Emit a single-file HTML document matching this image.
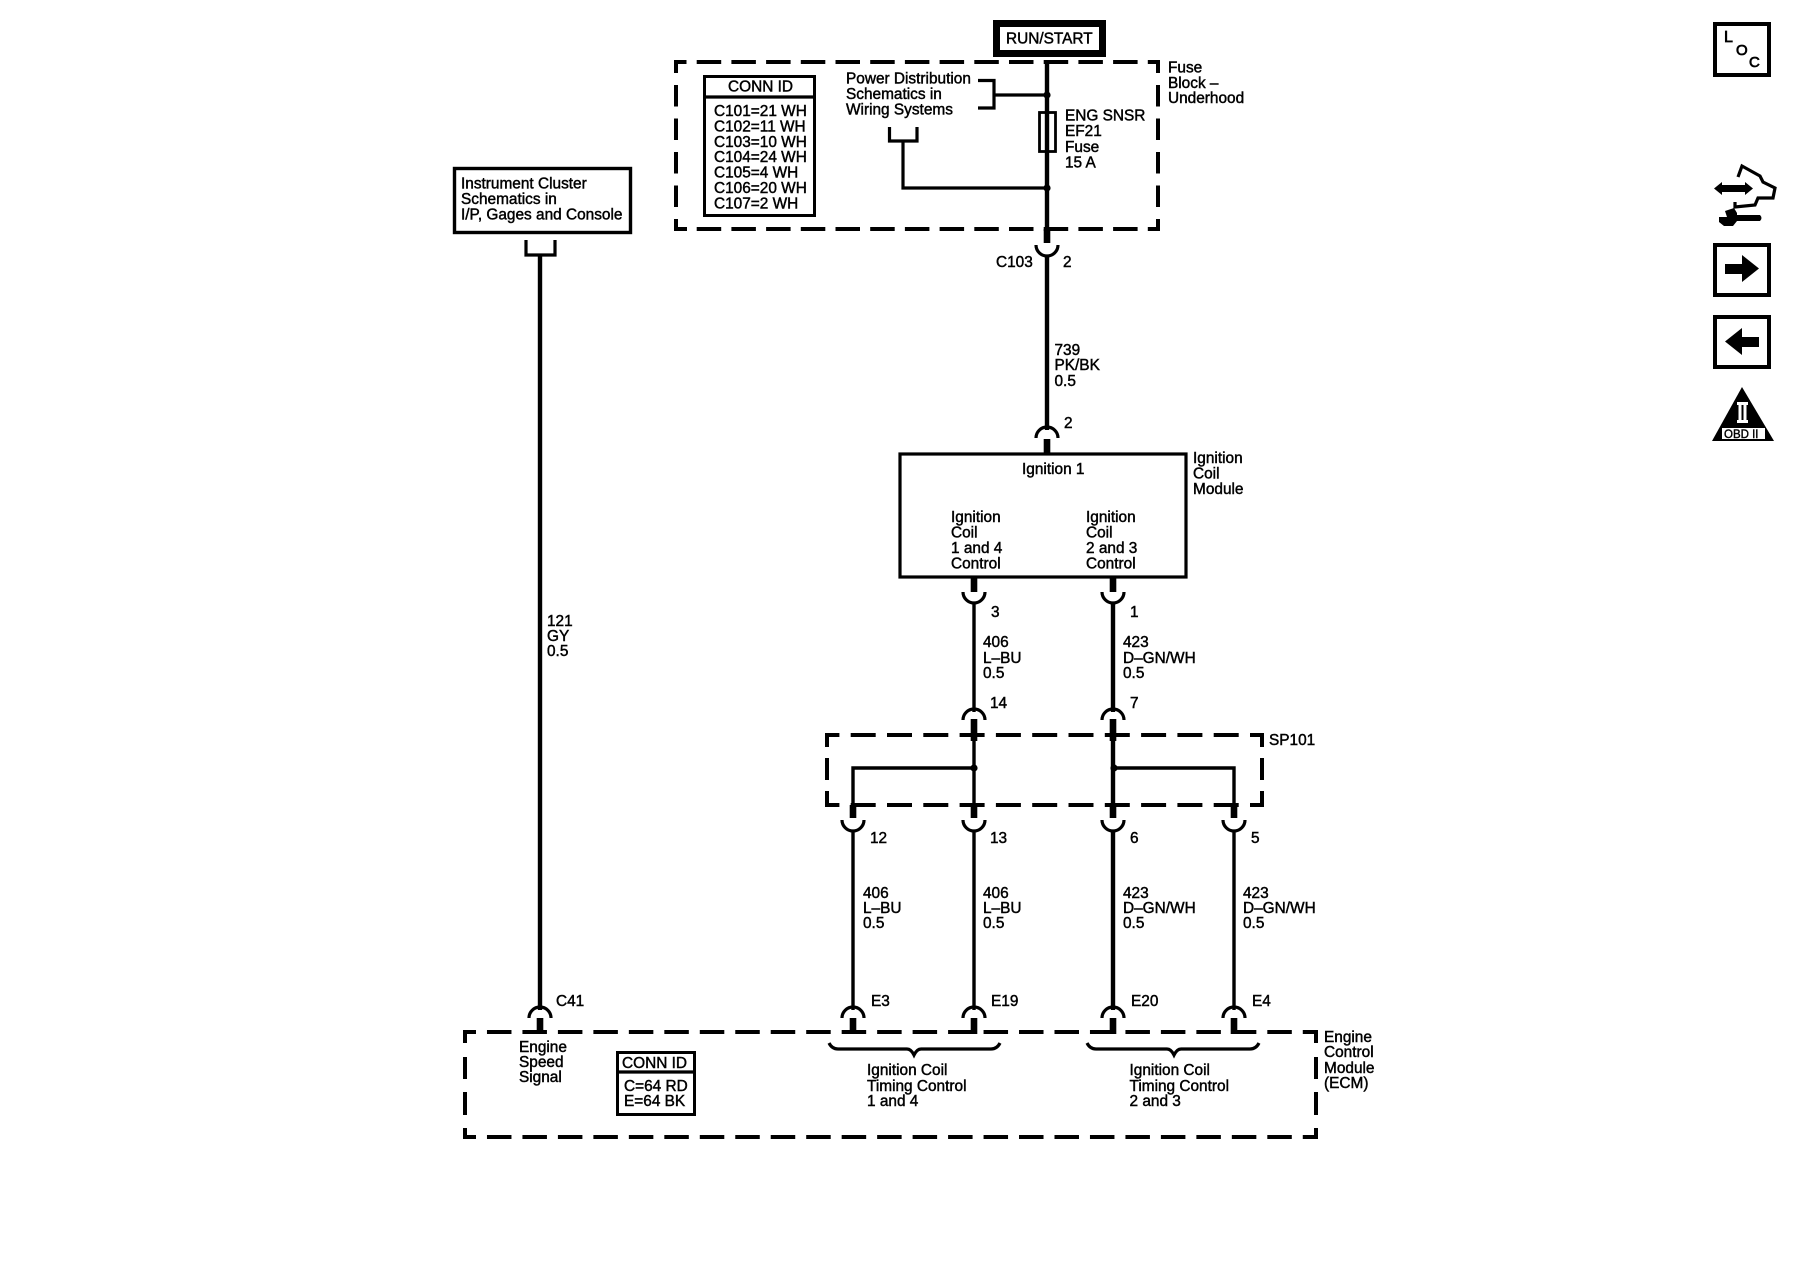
<!DOCTYPE html>
<html><head><meta charset="utf-8"><title>Ignition System Schematic</title>
<style>
html,body{margin:0;padding:0;background:#fff;width:1800px;height:1280px;overflow:hidden}
svg{display:block}
text{font-family:"Liberation Sans",sans-serif;font-size:15.4px;fill:#000;stroke:#000;stroke-width:.45px}
.w{fill:none;stroke:#000;stroke-width:3.4}
.m{fill:none;stroke:#000;stroke-width:4.4}
.s{fill:none;stroke:#000;stroke-width:6.6}
.a{fill:none;stroke:#000;stroke-width:3.2}
.d{fill:none;stroke:#000;stroke-width:4}
</style></head><body>
<svg width="1800" height="1280" viewBox="0 0 1800 1280" xmlns="http://www.w3.org/2000/svg">
<rect width="1800" height="1280" fill="#fff"/>

<!-- RUN/START -->
<rect x="996.5" y="23.5" width="106" height="30" fill="#fff" stroke="#000" stroke-width="7"/>
<text x="1006" y="43.5">RUN/START</text>

<!-- Fuse block dashed -->
<path class="d" d="M674 62H1160" stroke-dasharray="24.5 10.2" stroke-dashoffset="12"/>
<path class="d" d="M674 229H1160" stroke-dasharray="24.5 10.2" stroke-dashoffset="12"/>
<path class="d" d="M676 62V230" stroke-dasharray="21.5 12" stroke-dashoffset="10.5"/>
<path class="d" d="M1158 62V230" stroke-dasharray="21.5 12" stroke-dashoffset="10.5"/>
<path class="d" d="M1148 62H1160M674 229H687M1148 229H1160"/>

<!-- CONN ID fuse block -->
<rect x="704.5" y="76.5" width="110" height="139" fill="#fff" stroke="#000" stroke-width="3"/>
<path class="a" d="M704 97H816"/>
<text x="728" y="91.5">CONN ID</text>
<text x="714" y="116">C101=21 WH</text>
<text x="714" y="131.4">C102=11 WH</text>
<text x="714" y="146.8">C103=10 WH</text>
<text x="714" y="162.2">C104=24 WH</text>
<text x="714" y="177.6">C105=4 WH</text>
<text x="714" y="193">C106=20 WH</text>
<text x="714" y="208.4">C107=2 WH</text>

<!-- Power distribution -->
<text x="846" y="83.5">Power Distribution</text>
<text x="846" y="99">Schematics in</text>
<text x="846" y="114.5">Wiring Systems</text>
<path class="a" d="M978 80.5H994V108H978M994 95H1047"/>
<path class="a" d="M889.5 127V141H917V127M903 141V188H1047"/>
<circle cx="1047" cy="95" r="3.6"/>
<circle cx="1047" cy="188" r="3.6"/>

<!-- Main wire -->
<path class="m" d="M1047 60V229"/>
<rect x="1039.5" y="112.5" width="16" height="39" fill="none" stroke="#000" stroke-width="2.8"/>
<text x="1065" y="120.5">ENG SNSR</text>
<text x="1065" y="136">EF21</text>
<text x="1065" y="152">Fuse</text>
<text x="1065" y="167.5">15 A</text>
<text x="1168" y="72.5">Fuse</text>
<text x="1168" y="88">Block –</text>
<text x="1168" y="103">Underhood</text>
<path class="s" d="M1047 229V243"/>
<path class="a" d="M1036 245A11 11 0 0 0 1058 245"/>
<path class="m" d="M1047 256V430"/>
<text x="996" y="267">C103</text>
<text x="1063" y="267">2</text>
<text x="1054.5" y="355">739</text>
<text x="1054.5" y="370">PK/BK</text>
<text x="1054.5" y="386">0.5</text>
<text x="1064" y="428">2</text>
<path class="a" d="M1036 438A11 11 0 0 1 1058 438"/>
<path class="s" d="M1047 439V453"/>

<!-- Ignition coil module -->
<rect x="900" y="454" width="286" height="123" fill="none" stroke="#000" stroke-width="3.2"/>
<text x="1022" y="474">Ignition 1</text>
<text x="951" y="522">Ignition</text>
<text x="951" y="537.5">Coil</text>
<text x="951" y="553">1 and 4</text>
<text x="951" y="568.5">Control</text>
<text x="1086" y="522">Ignition</text>
<text x="1086" y="537.5">Coil</text>
<text x="1086" y="553">2 and 3</text>
<text x="1086" y="568.5">Control</text>
<text x="1193" y="463">Ignition</text>
<text x="1193" y="478.5">Coil</text>
<text x="1193" y="494">Module</text>

<!-- Coil outputs -->
<path class="s" d="M974 577V592M1113 577V592"/>
<path class="a" d="M963 592A11 11 0 0 0 985 592M1102 592A11 11 0 0 0 1124 592"/>
<path class="w" d="M974 602V712"/>
<path class="m" d="M1113 602V712"/>
<text x="991" y="617">3</text>
<text x="1130" y="617">1</text>
<text x="983" y="647">406</text>
<text x="983" y="663">L–BU</text>
<text x="983" y="678">0.5</text>
<text x="1123" y="647">423</text>
<text x="1123" y="663">D–GN/WH</text>
<text x="1123" y="678">0.5</text>
<text x="990" y="708">14</text>
<text x="1130" y="708">7</text>
<path class="a" d="M963 720A11 11 0 0 1 985 720M1102 720A11 11 0 0 1 1124 720"/>
<path class="s" d="M974 719V741M1113 719V741"/>

<!-- SP101 dashed -->
<path class="d" d="M827 735H1264" stroke-dasharray="25 11.3" stroke-dashoffset="12.6"/>
<path class="d" d="M827 805H1264" stroke-dasharray="25 11.3" stroke-dashoffset="12.6"/>
<path class="d" d="M827 733V807" stroke-dasharray="14 11 22 11 16" />
<path class="d" d="M1262 733V807" stroke-dasharray="14 11 22 11 16"/>
<path class="d" d="M1250 735H1264M1250 805H1264"/>
<text x="1269" y="745">SP101</text>

<path class="w" d="M974 740V805"/>
<path class="m" d="M1113 740V805"/>
<path class="w" d="M853 805V768H974M1113 768H1234V805"/>
<circle cx="974" cy="768" r="3.6"/>
<circle cx="1114" cy="768" r="3.6"/>
<path class="s" d="M853 805V818M974 805V818M1113 805V818M1234 805V818"/>
<path class="a" d="M842 820A11 11 0 0 0 864 820M963 820A11 11 0 0 0 985 820M1102 820A11 11 0 0 0 1124 820M1223 820A11 11 0 0 0 1245 820"/>
<path class="w" d="M853 830V1010M974 830V1010M1234 830V1010"/>
<path class="m" d="M1113 830V1010"/>
<text x="870" y="843">12</text>
<text x="990" y="843">13</text>
<text x="1130" y="843">6</text>
<text x="1251" y="843">5</text>
<text x="863" y="898">406</text>
<text x="863" y="913">L–BU</text>
<text x="863" y="928">0.5</text>
<text x="983" y="898">406</text>
<text x="983" y="913">L–BU</text>
<text x="983" y="928">0.5</text>
<text x="1123" y="898">423</text>
<text x="1123" y="913">D–GN/WH</text>
<text x="1123" y="928">0.5</text>
<text x="1243" y="898">423</text>
<text x="1243" y="913">D–GN/WH</text>
<text x="1243" y="928">0.5</text>

<!-- Instrument cluster -->
<rect x="454.5" y="168.5" width="176" height="64" fill="none" stroke="#000" stroke-width="3.4"/>
<text x="461" y="188.5">Instrument Cluster</text>
<text x="461" y="204">Schematics in</text>
<text x="461" y="219.5">I/P, Gages and Console</text>
<path class="a" d="M526 240V255H555V240"/>
<path class="m" d="M540 255V1010"/>
<text x="547" y="626">121</text>
<text x="547" y="641">GY</text>
<text x="547" y="656">0.5</text>

<!-- ECM connectors -->
<path class="a" d="M529 1018A11 11 0 0 1 551 1018M842 1018A11 11 0 0 1 864 1018M963 1018A11 11 0 0 1 985 1018M1102 1018A11 11 0 0 1 1124 1018M1223 1018A11 11 0 0 1 1245 1018"/>
<path class="s" d="M540 1018V1034M853 1018V1034M974 1018V1034M1113 1018V1034M1234 1018V1034"/>
<text x="556" y="1006">C41</text>
<text x="871" y="1006">E3</text>
<text x="991" y="1006">E19</text>
<text x="1131" y="1006">E20</text>
<text x="1252" y="1006">E4</text>

<!-- ECM dashed -->
<path class="d" d="M463 1032H1318" stroke-dasharray="24.5 10.97" stroke-dashoffset="11.5"/>
<path class="d" d="M463 1137H1318" stroke-dasharray="24.5 10.97" stroke-dashoffset="11.5"/>
<path class="d" d="M465 1030V1139" stroke-dasharray="13 14 22 13 23 13 13"/>
<path class="d" d="M1316 1030V1139" stroke-dasharray="13 14 22 13 23 13 13"/>
<path class="d" d="M1303 1032H1318M1303 1137H1318"/>

<text x="519" y="1052">Engine</text>
<text x="519" y="1067">Speed</text>
<text x="519" y="1082">Signal</text>
<rect x="617.5" y="1052.5" width="77" height="62" fill="#fff" stroke="#000" stroke-width="3"/>
<path class="a" d="M617 1072H695"/>
<text x="622" y="1068">CONN ID</text>
<text x="624" y="1091">C=64 RD</text>
<text x="624" y="1106">E=64 BK</text>

<!-- Braces -->
<path class="a" d="M829 1043Q832 1049 838 1049H907Q911 1049 914 1055Q917 1049 921 1049H991Q997 1049 1000 1043"/>
<path class="a" d="M1087 1043Q1090 1049 1096 1049H1167Q1171 1049 1174 1055Q1177 1049 1181 1049H1250Q1256 1049 1259 1043"/>
<text x="867" y="1075">Ignition Coil</text>
<text x="867" y="1091">Timing Control</text>
<text x="867" y="1106">1 and 4</text>
<text x="1129.5" y="1075">Ignition Coil</text>
<text x="1129.5" y="1091">Timing Control</text>
<text x="1129.5" y="1106">2 and 3</text>
<text x="1324" y="1042">Engine</text>
<text x="1324" y="1057">Control</text>
<text x="1324" y="1073">Module</text>
<text x="1324" y="1088">(ECM)</text>

<!-- LOC icon -->
<rect x="1715" y="24" width="54" height="51" fill="none" stroke="#000" stroke-width="4"/>
<text x="1724" y="42" style="font-size:16px;stroke-width:.7px">L</text>
<text x="1736" y="55" style="font-size:15px;stroke-width:.7px">O</text>
<text x="1749" y="67" style="font-size:15px;stroke-width:.7px">C</text>

<!-- Car / wrench icon -->
<path fill="none" stroke="#000" stroke-width="3.2" d="M1738 177L1742 166L1760 176L1763 182L1775 188L1773 198L1758 198L1755 205L1735 207L1735 202"/>
<path fill="#000" d="M1714 188.500L1722 182V185H1745V182L1753 188.500L1745 195V192H1722V195Z"/>
<path fill="#000" d="M1719 217L1727 217L1725 211L1734 208L1737 213L1737 215H1760Q1763 218 1760 221H1737L1733 226L1724 226L1719 222Z"/>

<!-- Arrow right -->
<rect x="1715" y="245" width="54" height="50" fill="none" stroke="#000" stroke-width="4"/>
<path fill="#000" d="M1725 264H1742V255L1759 268.500L1742 282V274H1725Z"/>

<!-- Arrow left -->
<rect x="1715" y="317" width="54" height="50" fill="none" stroke="#000" stroke-width="4"/>
<path fill="#000" d="M1759 337H1742V328L1725 341.500L1742 355V347H1759Z"/>

<!-- OBD II icon -->
<path fill="#000" d="M1742 387L1774 441H1712Z"/>
<path fill="#fff" d="M1737 402H1748V405H1746.500V420H1748V423H1737V420H1738.500V405H1737Z"/>
<rect x="1741.500" y="405" width="2" height="15" fill="#000"/>
<rect x="1722" y="428" width="43" height="11" fill="#fff"/>
<text x="1724" y="438" style="font-size:11.5px;stroke-width:.4px">OBD II</text>
</svg>
</body></html>
